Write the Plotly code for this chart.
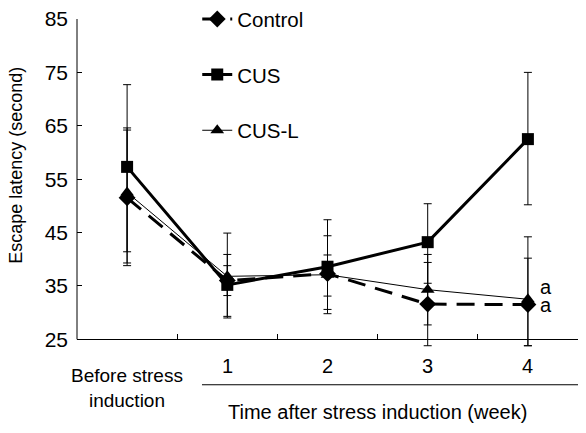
import plotly.graph_objects as go

# ---- data ----
categories = ["Before stress<br>induction", "1", "2", "3", "4"]
x_idx = [0, 1, 2, 3, 4]

control = [51.5, 36.0, 37.3, 31.6, 31.5]
control_plus = [12.7, 2.8, 3.5, 7.8, 8.7]
control_minus = [12.7, 2.8, 4.2, 7.8, 7.7]

cus = [57.3, 35.2, 38.6, 43.2, 62.5]
cus_plus = [15.4, 5.7, 8.8, 7.2, 12.5]
cus_minus = [15.9, 6.2, 8.8, 7.7, 12.3]

cusl = [52.5, 36.8, 37.1, 34.3, 32.5]
cusl_plus = [12.1, 8.1, 7.3, 6.6, 11.7]
cusl_minus = [13.2, 7.5, 6.5, 6.6, 8.7]

sig_labels = ["a", "a"]
sig_values = [34.8, 31.5]

y_ticks = [25, 35, 45, 55, 65, 75, 85]
x_title = "Time after stress induction (week)"
y_title = "Escape latency (second)"

FONT = "Liberation Sans, Arial, sans-serif"
Y_MIN, Y_MAX, Y_AXIS = 23, 85, 25

fig = go.Figure()

def err(p, m):
    return dict(type="data", symmetric=False, array=p, arrayminus=m,
                color="black", thickness=1, width=4)

fig.add_trace(go.Scatter(
    x=x_idx, y=control, name="Control", mode="lines+markers",
    line=dict(color="black", width=3, dash="18px,10px"),
    marker=dict(symbol="diamond", size=13, color="black"),
    error_y=err(control_plus, control_minus),
    legendgroup="a"))
fig.add_trace(go.Scatter(
    x=x_idx, y=cus, name="CUS", mode="lines+markers",
    line=dict(color="black", width=3),
    marker=dict(symbol="square", size=12, color="black"),
    error_y=err(cus_plus, cus_minus),
    legendgroup="b"))
fig.add_trace(go.Scatter(
    x=x_idx, y=cusl, name="CUS-L", mode="lines+markers",
    line=dict(color="black", width=1),
    marker=dict(symbol="triangle-up", size=12, color="black"),
    error_y=err(cusl_plus, cusl_minus),
    legendgroup="c"))

annotations = []
for lab, v in zip(sig_labels, sig_values):
    annotations.append(dict(x=x_idx[-1], y=v, xref="x", yref="y", text=lab,
                            showarrow=False, xanchor="left", xshift=10,
                            font=dict(size=20, family=FONT, color="black")))
# category labels
for xi, lab in zip(x_idx, categories):
    if xi == 0:
        annotations.append(dict(x=xi, y=-0.114, xref="x", yref="paper", text=lab,
                                showarrow=False, xanchor="center", yanchor="middle",
                                font=dict(size=19, family=FONT, color="black")))
    else:
        annotations.append(dict(x=xi, y=-0.048, xref="x", yref="paper", text=lab,
                                showarrow=False, xanchor="center", yanchor="middle",
                                font=dict(size=20, family=FONT, color="black")))
annotations.append(dict(x=0.6, y=-0.187, xref="paper", yref="paper", text=x_title,
                        showarrow=False, xanchor="center", yanchor="middle",
                        font=dict(size=20, family=FONT, color="black")))
annotations.append(dict(x=-0.122, y=0.559, xref="paper", yref="paper", text=y_title,
                        showarrow=False, textangle=-90, xanchor="center",
                        yanchor="middle",
                        font=dict(size=18, family=FONT, color="black")))

fig.update_layout(
    width=586, height=433,
    margin=dict(l=77, r=8, t=19, b=82.8, autoexpand=False),
    paper_bgcolor="white", plot_bgcolor="white",
    font=dict(family=FONT, size=20, color="black"),
    showlegend=True,
    legend=dict(x=0.24, y=1.06, xanchor="left", yanchor="top",
                bgcolor="rgba(0,0,0,0)", font=dict(size=20.5, family=FONT),
                tracegroupgap=26, traceorder="grouped"),
    annotations=annotations,
    shapes=[
        dict(type="line", xref="paper", yref="paper",
             x0=0.2495, x1=1.0, y0=-0.105, y1=-0.105,
             line=dict(color="black", width=1)),
        dict(type="line", xref="paper", yref="y",
             x0=0, x1=0, y0=Y_AXIS, y1=Y_MAX,
             line=dict(color="black", width=1)),
    ],
    xaxis=dict(range=[-0.5, 4.5], tickvals=[0.5, 1.5, 2.5, 3.5, 4.5],
               ticks="inside", ticklen=5, tickcolor="black",
               showticklabels=False, showline=True, linecolor="black",
               linewidth=1, showgrid=False, zeroline=False,
               anchor="free", position=(Y_AXIS - Y_MIN) / (Y_MAX - Y_MIN)),
    yaxis=dict(range=[Y_MIN, Y_MAX], tickvals=y_ticks, ticks="inside", ticklen=5,
               tickcolor="black", showline=False,
               showgrid=False, zeroline=False, ticklabelstandoff=8,
               tickfont=dict(size=21, family=FONT)),
)

fig.write_html("out.html",
               config={"displayModeBar": False},
               post_script="document.body.style.margin='0';"
                           "document.body.style.overflow='hidden';")
